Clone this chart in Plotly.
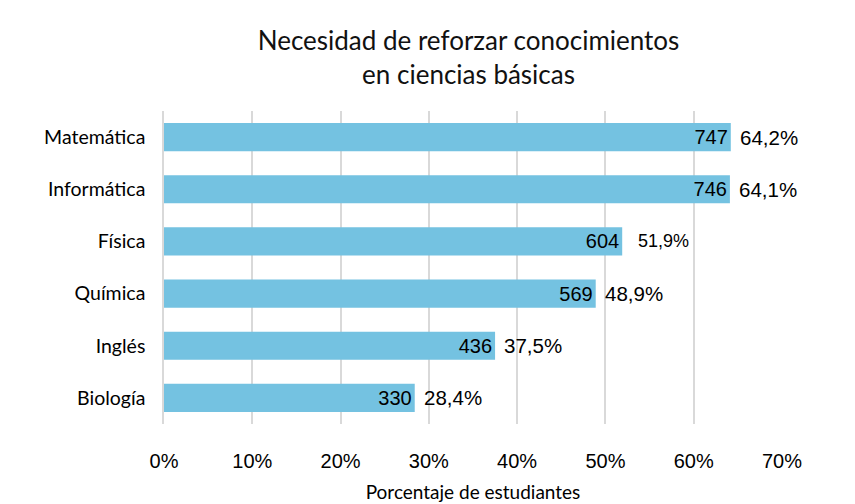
import plotly.graph_objects as go

categories = ["Matemática", "Informática", "Física", "Química", "Inglés", "Biología"]
counts = [747, 746, 604, 569, 436, 330]
percents = [64.2, 64.1, 51.9, 48.9, 37.5, 28.4]
pct_labels = ["64,2%", "64,1%", "51,9%", "48,9%", "37,5%", "28,4%"]
tick_vals = [0, 10, 20, 30, 40, 50, 60, 70]
tick_text = ["0%", "10%", "20%", "30%", "40%", "50%", "60%", "70%"]

fig = go.Figure()
fig.add_trace(go.Bar(
    y=categories, x=percents, orientation="h",
    marker=dict(color="#74C2E1", line=dict(width=0)),
    width=0.54,
    text=[str(c) for c in counts], textposition="inside", insidetextanchor="end",
    textfont=dict(family="Liberation Sans, Arial", size=20, color="black"),
    hoverinfo="skip",
))
for cat, p, lab in zip(categories, percents, pct_labels):
    fig.add_annotation(x=p, y=cat, text=lab, showarrow=False, xanchor="left",
                       xshift=14 if cat == "Física" else 7,
                       font=dict(family="Liberation Sans, Arial",
                                 size=18 if cat == "Física" else 20.5, color="black"))

fig.update_layout(
    width=855, height=504,
    margin=dict(l=164, r=73, t=111, b=80),
    paper_bgcolor="white", plot_bgcolor="white",
    title=dict(text="Necesidad de reforzar conocimientos<br>en ciencias básicas",
               x=0.548, xanchor="center", y=0.90, yanchor="top",
               font=dict(family="Lato", size=26, color="#111")),
    showlegend=False,
    xaxis=dict(range=[0, 70], tickvals=tick_vals, ticktext=tick_text,
               showgrid=True, gridcolor="#D9D9D9", gridwidth=1.5, zeroline=False,
               showline=False, ticks="", ticklabelstandoff=23, automargin=False,
               tickfont=dict(family="Liberation Sans, Arial", size=20, color="black"),
               title=dict(text="Porcentaje de estudiantes", standoff=14,
                          font=dict(family="Lato", size=19, color="black"))),
    yaxis=dict(categoryorder="array", categoryarray=categories[::-1],
               showgrid=False, zeroline=False, showline=True, linecolor="#D9D9D9",
               linewidth=1.5, ticks="", ticklabelstandoff=13, automargin=False,
               tickfont=dict(family="Lato", size=19.5, color="black")),
)
fig.write_html("out.html")
